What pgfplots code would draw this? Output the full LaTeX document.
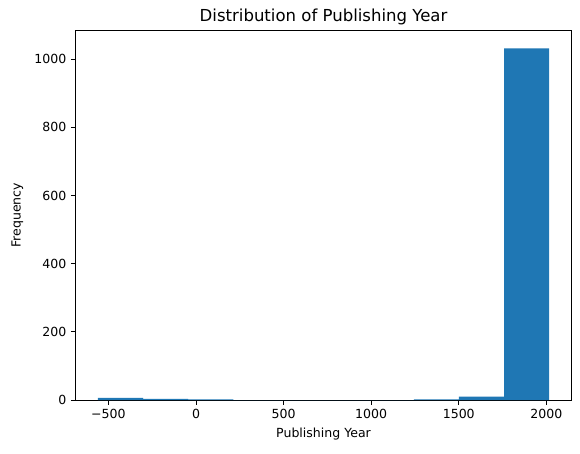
\documentclass[border=0pt]{standalone}
\usepackage{pgfplots}
\pgfplotsset{compat=1.18}
\usepackage{fontspec}
\setmainfont{DejaVu Sans}
\definecolor{mplblue}{HTML}{1F77B4}
\begin{document}
\fontsize{9.4pt}{11pt}\selectfont
\begin{tikzpicture}
\useasboundingbox (-56.5pt,-39.75pt) rectangle (378.5pt,300pt);
\begin{axis}[
  at={(0,0)}, anchor=south west,
  scale only axis,
  width=372.3pt, height=277pt,
  xmin=-688.8, xmax=2144.8,
  ymin=0, ymax=1083.6,
  xtick={-500,0,500,1000,1500,2000},
  xticklabels={−500,0,500,1000,1500,2000},
  ytick={0,200,400,600,800,1000},
  yticklabels={0,200,400,600,800,1000},
  tick pos=left,
  tick align=outside,
  major tick length=3.4pt,
  tick style={black, line width=0.6pt},
  axis line style={line width=0.6pt},
  tick label style={font=\fontsize{9.4pt}{11pt}\selectfont},
  label style={font=\fontsize{9.4pt}{11pt}\selectfont},
  xlabel={Publishing Year},
  ylabel={Frequency},
  title={Distribution of Publishing Year},
  title style={font=\fontsize{12.4pt}{14pt}\selectfont, yshift=-5pt},
  xlabel style={yshift=-1pt},
  ylabel style={yshift=2pt},
]
\addplot[ybar interval, fill=mplblue, draw=none] coordinates {
(-560,6) (-302.4,3) (-44.8,2) (212.8,0) (470.4,0) (728,0) (985.6,0) (1243.2,2) (1500.8,10) (1758.4,1032) (2016,1032)
};
\end{axis}
\end{tikzpicture}
\end{document}
